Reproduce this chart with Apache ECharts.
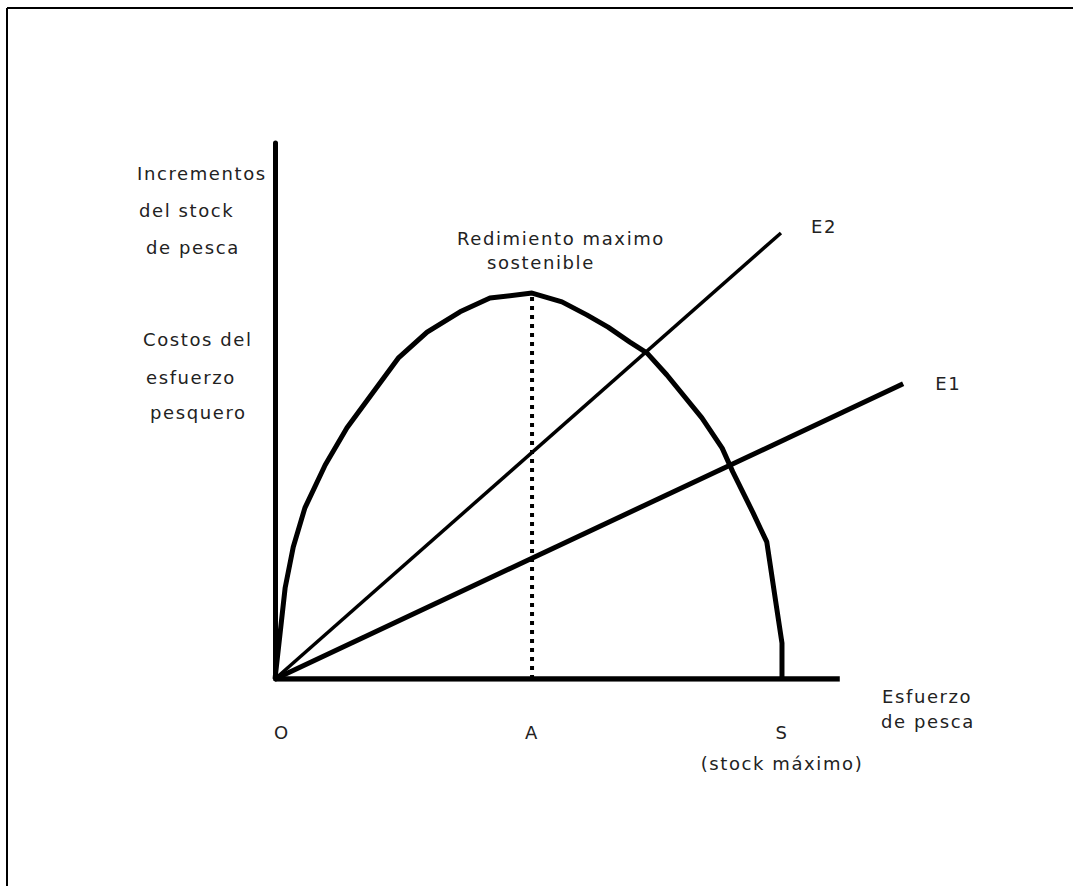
<!DOCTYPE html>
<html>
<head>
<meta charset="utf-8">
<script src="https://cdn.jsdelivr.net/npm/echarts@6/dist/echarts.min.js"></script>
<style>
html, body { margin: 0; padding: 0; background: #fff; }
#chart { width: 1073px; height: 886px; letter-spacing: 1.6px; }
#chart text { letter-spacing: 1.6px; }
</style>
</head>
<body>
<div id="chart"></div>
<script>
// curva de crecimiento del stock (esfuerzo -> incremento)
var stockX = [0, 2.0, 3.6, 5.9, 9.9, 14.2, 24.3, 30.0, 36.5, 42.4, 50.7, 56.6, 61.5, 65.7, 70.0, 73.4, 77.3, 84.2, 88.2, 90.3, 94.3, 97.0, 98.8, 100, 100];
var stockY = [0, 23.8, 34.5, 44.7, 55.9, 65.6, 83.8, 90.6, 95.9, 99.5, 100.8, 98.5, 95.1, 91.9, 88.0, 85.1, 79.4, 68.2, 60.3, 54.1, 43.4, 35.8, 19.9, 9.4, 0];

// rectas de costos
var e1X = [0, 123.9];
var e1Y = [0, 77.1];
var e2X = [0, 99.8];
var e2Y = [0, 116.5];

// rendimiento maximo sostenible
var msyX = [50.7, 50.7];
var msyY = [0, 100.8];

// eje de esfuerzo (termina antes que la recta E1)
var axisX = [0, 111.4];
var axisY = [0, 0];

var tickValues = [0, 50.7, 100];
var tickLabels = ['O', 'A', 'S\n(stock máximo)'];

var FONT = '"DejaVu Sans"';
var TXT = '#222';

var zip = function (xs, ys) {
  return xs.map(function (x, i) { return [x, ys[i]]; });
};

var txt = function (s, x, y) {
  return {
    type: 'text', x: x, y: y,
    style: {
      text: s, font: '18px ' + FONT, fill: TXT,
      textAlign: 'left', textVerticalAlign: 'middle', align: 'left', verticalAlign: 'middle'
    }
  };
};

var chart = echarts.init(document.getElementById('chart'), null, { renderer: 'svg' });
var option = {
  animation: false,
  grid: { left: 275, right: 123, top: 143, bottom: 207 },
  xAxis: {
    type: 'value', min: 0, max: 133.14,
    axisLine: { show: false },
    axisTick: { show: false },
    splitLine: { show: false },
    axisLabel: {
      customValues: tickValues,
      formatter: function (v) {
        var i = tickValues.indexOf(v);
        return i === 0 ? '{o|' + tickLabels[0] + '}' : tickLabels[i];
      },
      margin: 38, lineHeight: 31,
      fontSize: 18, fontFamily: FONT, color: TXT,
      rich: { o: { padding: [0, 0, 0, 14], lineHeight: 31, fontSize: 18, fontFamily: FONT, color: TXT } }
    }
  },
  yAxis: {
    type: 'value', min: 0, max: 140,
    axisLine: { show: true, lineStyle: { color: '#000', width: 5 } },
    axisTick: { show: false },
    axisLabel: { show: false },
    splitLine: { show: false }
  },
  series: [
    {
      name: 'eje', type: 'line', symbol: 'none',
      data: zip(axisX, axisY),
      lineStyle: { color: '#000', width: 5.5 }
    },
    {
      name: 'stock', type: 'line', symbol: 'none',
      data: zip(stockX, stockY),
      lineStyle: { color: '#000', width: 5 }
    },
    {
      name: 'E2', type: 'line', symbol: 'none',
      data: zip(e2X, e2Y),
      lineStyle: { color: '#000', width: 3.5 },
      endLabel: { show: true, formatter: 'E2', distance: 30, offset: [0, -6], fontSize: 18, fontFamily: FONT, color: TXT }
    },
    {
      name: 'E1', type: 'line', symbol: 'none',
      data: zip(e1X, e1Y),
      lineStyle: { color: '#000', width: 5 },
      endLabel: { show: true, formatter: 'E1', distance: 32, fontSize: 18, fontFamily: FONT, color: TXT }
    },
    {
      name: 'RMS', type: 'line', symbol: 'none',
      data: zip(msyX, msyY),
      lineStyle: { color: '#000', width: 4, type: [4, 5] }
    }
  ],
  graphic: [
    { type: 'line', shape: { x1: 7, y1: 8, x2: 1073, y2: 8 }, style: { stroke: '#000', lineWidth: 2 } },
    { type: 'line', shape: { x1: 7, y1: 8, x2: 7, y2: 886 }, style: { stroke: '#000', lineWidth: 2 } },
    txt('Incrementos', 137, 173),
    txt('del stock', 139, 210),
    txt('de pesca', 146, 247),
    txt('Costos del', 143, 339),
    txt('esfuerzo', 146, 377),
    txt('pesquero', 150, 412),
    txt('Redimiento maximo', 457, 238),
    txt('sostenible', 487, 262),
    txt('Esfuerzo', 882, 696),
    txt('de pesca', 881, 721)
  ]
};
chart.setOption(option);
</script>
</body>
</html>
